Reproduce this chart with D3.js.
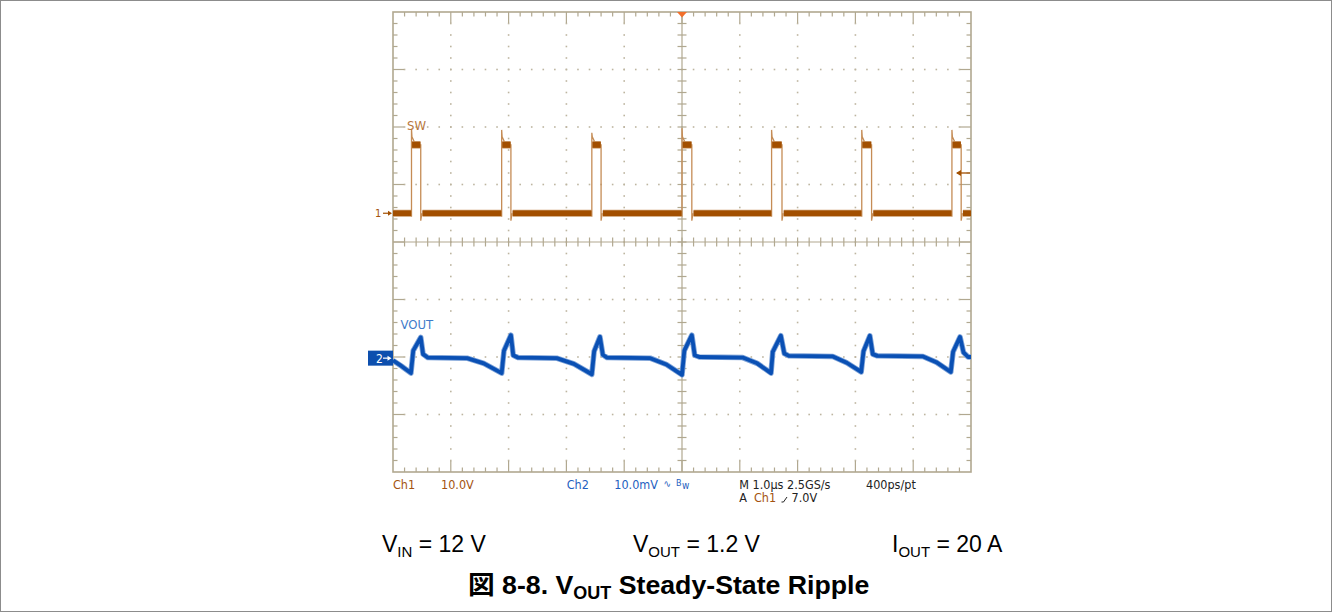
<!DOCTYPE html>
<html>
<head>
<meta charset="utf-8">
<script src="https://cdn.jsdelivr.net/npm/d3@7"></script>
<style>
body { margin: 0; background: #fff; }
svg { display: block; }
.scope { font-family: "Liberation Sans Narrow", "Arial Narrow", "DejaVu Sans Condensed", sans-serif; }
.cap { font-family: "Liberation Sans", Arial, "Noto Sans CJK JP", sans-serif; fill: #000; }
</style>
</head>
<body>
<svg id="chart" width="1333" height="613"></svg>
<script>
// timebase in us, 1 us/div, trigger at centre
var timeDomain = [-5, 5];
var divsX = 10, divsY = 8, minorPerDiv = 5;

// Ch1 = SW, 10 V/div, ground marker 4.5 div above bottom
var ch1VoltsPerDiv = 10, ch1Offset = 4.5;
var swRise = [-4.68, -3.12, -1.56, 0.00, 1.55, 3.11, 4.67];   // us
var swFall = [-4.52, -2.96, -1.40, 0.17, 1.73, 3.28, 4.83];   // us
var swPeak = [14.7, 14.5, 14.0, 14.8, 14.5, 14.5, 14.5];       // V, overshoot at turn-on
var swHigh = 11.9, swLow = 0, swUnder = -1.3;
var trigLevel = 7.0;

// Ch2 = VOUT (ac), 10 mV/div, marker 1.98 div above bottom
var ch2mVPerDiv = 10, ch2Offset = 1.98;
var vout = [
  [-5.00, -0.4], [-4.85, -1.4], [-4.69, -2.6], [-4.65, 1.3], [-4.52, 3.6], [-4.48, 0.7], [-4.40, 0.1],
  [-3.72, 0.0], [-3.43, -0.9], [-3.12, -2.6], [-3.08, 1.3], [-2.96, 4.0], [-2.92, 0.5], [-2.84, 0.1],
  [-2.17, 0.0], [-1.87, -1.0], [-1.56, -2.8], [-1.52, 1.2], [-1.42, 3.7], [-1.37, 0.6], [-1.30, 0.1],
  [-0.55, 0.0], [-0.27, -1.1], [0.00, -2.9], [0.04, 1.3], [0.17, 4.0], [0.22, 0.5], [0.30, 0.2],
  [1.05, 0.1], [1.30, -0.9], [1.54, -2.6], [1.57, 1.1], [1.71, 3.9], [1.77, 0.8], [1.85, 0.4],
  [2.61, 0.3], [2.85, -0.8], [3.10, -2.4], [3.14, 1.2], [3.25, 3.9], [3.30, 0.7], [3.38, 0.4],
  [4.17, 0.3], [4.40, -0.7], [4.65, -2.4], [4.69, 1.1], [4.81, 3.7], [4.87, 1.0], [4.95, 0.2],
  [5.00, 0.2]
];

var plotL = 393, plotR = 971, plotT = 12, plotB = 472;
var gratColor = "#b1a890", swColor = "#a24f00", swEdge = "#c58c55",
    blue = "#0a50b4", blueLight = "#7ea3d8", chTxt1 = "#a3530f", chTxt2 = "#1f5fc0";

var svg = d3.select("#chart");
svg.append("rect").attr("x", 0.5).attr("y", 0.5).attr("width", 1331).attr("height", 611)
  .attr("fill", "#fff").attr("stroke", "#8c8c8c");

var x = d3.scaleLinear().domain(timeDomain).range([plotL, plotR]);
var xDiv = d3.scaleLinear().domain([0, divsX]).range([plotL, plotR]);
var yDiv = d3.scaleLinear().domain([0, divsY]).range([plotB, plotT]);
var y1 = d3.scaleLinear().domain([0, ch1VoltsPerDiv]).range([yDiv(ch1Offset), yDiv(ch1Offset + 1)]);
var y2 = d3.scaleLinear().domain([0, ch2mVPerDiv]).range([yDiv(ch2Offset), yDiv(ch2Offset + 1)]);

// ---- graticule
var g = svg.append("g");
var minX = d3.range(1, divsX * minorPerDiv).map(function(i){ return i / minorPerDiv; });
var minY = d3.range(1, divsY * minorPerDiv).map(function(i){ return i / minorPerDiv; });
var dots = [];
d3.range(1, divsX).filter(function(k){ return k != divsX / 2; }).forEach(function(k){
  minY.forEach(function(m){ dots.push([xDiv(k), yDiv(m)]); });
});
d3.range(1, divsY).filter(function(k){ return k != divsY / 2; }).forEach(function(k){
  minX.forEach(function(m){ dots.push([xDiv(m), yDiv(k)]); });
});
g.selectAll(".dot").data(dots).enter().append("rect")
  .attr("x", function(d){ return d[0] - 0.8; }).attr("y", function(d){ return d[1] - 0.8; })
  .attr("width", 1.6).attr("height", 1.6).attr("fill", "#bdb5a0");

function isMajor(m){ return Math.abs(m - Math.round(m)) < 1e-6; }
// border ticks
minX.forEach(function(m){
  var L = isMajor(m) ? 11 : 4.5;
  g.append("line").attr("x1", xDiv(m)).attr("x2", xDiv(m)).attr("y1", plotT).attr("y2", plotT + L);
  g.append("line").attr("x1", xDiv(m)).attr("x2", xDiv(m)).attr("y1", plotB).attr("y2", plotB - L);
  g.append("line").attr("x1", xDiv(m)).attr("x2", xDiv(m)).attr("y1", yDiv(4) - 4.5).attr("y2", yDiv(4) + 4.5);
});
minY.forEach(function(m){
  var L = isMajor(m) ? 11 : 4.5;
  g.append("line").attr("y1", yDiv(m)).attr("y2", yDiv(m)).attr("x1", plotL).attr("x2", plotL + L);
  g.append("line").attr("y1", yDiv(m)).attr("y2", yDiv(m)).attr("x1", plotR).attr("x2", plotR - L);
  g.append("line").attr("y1", yDiv(m)).attr("y2", yDiv(m)).attr("x1", xDiv(5) - 4.5).attr("x2", xDiv(5) + 4.5);
});
g.append("line").attr("x1", xDiv(5)).attr("x2", xDiv(5)).attr("y1", plotT).attr("y2", plotB);
g.append("line").attr("x1", plotL).attr("x2", plotR).attr("y1", yDiv(4)).attr("y2", yDiv(4));
g.selectAll("line").attr("stroke", gratColor).attr("stroke-width", 1.2);
g.append("rect").attr("x", plotL).attr("y", plotT).attr("width", plotR - plotL).attr("height", plotB - plotT)
  .attr("fill", "none").attr("stroke", gratColor).attr("stroke-width", 1.6);

// ---- Ch1 SW
var line = d3.line().x(function(d){ return x(d[0]); }).y(function(d){ return y1(d[1]); });
var sw = svg.append("g");
swRise.forEach(function(r, i){
  var f = swFall[i];
  var pts = [[r, -0.6], [r, swPeak[i]], [r + 0.008, swHigh + 1.4], [r + 0.05, swHigh + 0.5], [r + 0.07, swHigh],
             [f, swHigh], [f, swUnder], [f + 0.02, swLow]];
  sw.append("path").attr("d", line(pts)).attr("fill", "none")
    .attr("stroke", swEdge).attr("stroke-width", 1.3);
});
var lows = [[timeDomain[0], swRise[0] - 0.005]];
swFall.forEach(function(f, i){
  lows.push([f + 0.03, i + 1 < swRise.length ? swRise[i + 1] - 0.005 : timeDomain[1]]);
});
var highs = swRise.map(function(r, i){ return [r + 0.01, swFall[i] - 0.005]; });
function plateau(segs, v, w){
  segs.forEach(function(s){
    sw.append("line").attr("x1", x(s[0])).attr("x2", x(s[1])).attr("y1", y1(v)).attr("y2", y1(v))
      .attr("stroke", "#c99867").attr("stroke-width", w + 1.5);
    sw.append("line").attr("x1", x(s[0])).attr("x2", x(s[1])).attr("y1", y1(v)).attr("y2", y1(v))
      .attr("stroke", swColor).attr("stroke-width", w);
  });
}
plateau(lows, swLow, 5.5);
plateau(highs, swHigh, 6);

// ---- Ch2 VOUT
var line2 = d3.line().x(function(d){ return x(d[0]); }).y(function(d){ return y2(d[1]); });
svg.append("path").attr("d", line2(vout)).attr("fill", "none").attr("stroke", blueLight)
  .attr("stroke-width", 5.5).attr("stroke-linejoin", "round");
svg.append("path").attr("d", line2(vout)).attr("fill", "none").attr("stroke", blue)
  .attr("stroke-width", 3.8).attr("stroke-linejoin", "round");

// ---- markers
var sc = svg.append("g").attr("class", "scope");
// trigger position
sc.append("path").attr("d", "M" + (x(0) - 5) + "," + plotT + "L" + (x(0) + 5) + "," + plotT + "L" + x(0) + "," + (plotT + 5.5) + "Z")
  .attr("fill", "#f26f2b");
// trigger level arrow
var ty = y1(trigLevel);
sc.append("path").attr("d", "M957," + ty + "L970," + ty).attr("stroke", swColor).attr("stroke-width", 1.3);
sc.append("path").attr("d", "M956," + ty + "L961," + (ty - 3) + "L961," + (ty + 3) + "Z").attr("fill", swColor);
// ch1 ground
var g1 = y1(0);
sc.append("text").attr("x", 375).attr("y", g1 + 4).attr("font-size", 11).attr("fill", chTxt1).text("1");
sc.append("path").attr("d", "M383," + g1 + "L390," + g1).attr("stroke", swColor).attr("stroke-width", 1.2);
sc.append("path").attr("d", "M392," + g1 + "L388," + (g1 - 2.5) + "L388," + (g1 + 2.5) + "Z").attr("fill", swColor);
// ch2 ground
var g2 = y2(0);
sc.append("rect").attr("x", 368).attr("y", g2 - 7.5).attr("width", 25).attr("height", 15).attr("fill", "#0d4fae");
sc.append("text").attr("x", 376).attr("y", g2 + 4.5).attr("font-size", 12).attr("fill", "#fff").text("2");
sc.append("path").attr("d", "M383," + g2 + "L389," + g2).attr("stroke", "#fff").attr("stroke-width", 1.2);
sc.append("path").attr("d", "M391.5," + g2 + "L387.5," + (g2 - 2.5) + "L387.5," + (g2 + 2.5) + "Z").attr("fill", "#fff");

// channel labels
sc.append("text").attr("x", 407).attr("y", 129.5).attr("font-size", 13).attr("fill", "#b8783c").text("SW");
sc.append("text").attr("x", 400.5).attr("y", 329).attr("font-size", 13).attr("fill", "#3f7bc9").text("VOUT");

// status readout
var st = [
  {x: 393, y: 488.7, t: "Ch1", c: chTxt1},
  {x: 441, y: 488.7, t: "10.0V", c: chTxt1},
  {x: 566.7, y: 488.7, t: "Ch2", c: chTxt2},
  {x: 614.3, y: 488.7, t: "10.0mV", c: chTxt2},
  {x: 739.3, y: 488.7, t: "M 1.0\u00b5s 2.5GS/s", c: "#222"},
  {x: 866, y: 488.7, t: "400ps/pt", c: "#222"},
  {x: 739.3, y: 502, t: "A", c: "#222"},
  {x: 754, y: 502, t: "Ch1", c: chTxt1},
  {x: 791.5, y: 502, t: "7.0V", c: "#222"}
];
sc.selectAll(".st").data(st).enter().append("text")
  .attr("x", function(d){ return d.x; }).attr("y", function(d){ return d.y; })
  .attr("font-size", 12.5).attr("fill", function(d){ return d.c; }).text(function(d){ return d.t; });
sc.append("text").attr("x", 663.5).attr("y", 487).attr("font-size", 10).attr("fill", chTxt2).text("\u223f");
sc.append("text").attr("x", 676).attr("y", 485.5).attr("font-size", 9).attr("fill", chTxt2).text("B");
sc.append("text").attr("x", 682).attr("y", 488.7).attr("font-size", 10).attr("fill", chTxt2).text("w");
sc.append("path").attr("d", "M781.5,502 L783.5,502 L787,497").attr("fill", "none").attr("stroke", "#222").attr("stroke-width", 1);

// ---- captions
function caption(px, main, sub, rest){
  var t = svg.append("text").attr("class", "cap").attr("x", px).attr("y", 551.7).attr("font-size", 23);
  t.append("tspan").text(main);
  t.append("tspan").attr("font-size", 15).attr("dy", 5).text(sub);
  t.append("tspan").attr("dy", -5).text(rest);
}
caption(382, "V", "IN", " = 12 V");
caption(633, "V", "OUT", " = 1.2 V");
caption(892, "I", "OUT", " = 20 A");

var title = svg.append("text").attr("class", "cap").attr("x", 468).attr("y", 593.5)
  .attr("font-size", 26.7).attr("font-weight", "bold");
title.append("tspan").attr("font-family", "'Noto Sans CJK JP', sans-serif").text("\u56f3");
title.append("tspan").text(" 8-8. V");
title.append("tspan").attr("font-size", 18).attr("dy", 5).text("OUT");
title.append("tspan").attr("dy", -5).text(" Steady-State Ripple");
</script>
</body>
</html>
